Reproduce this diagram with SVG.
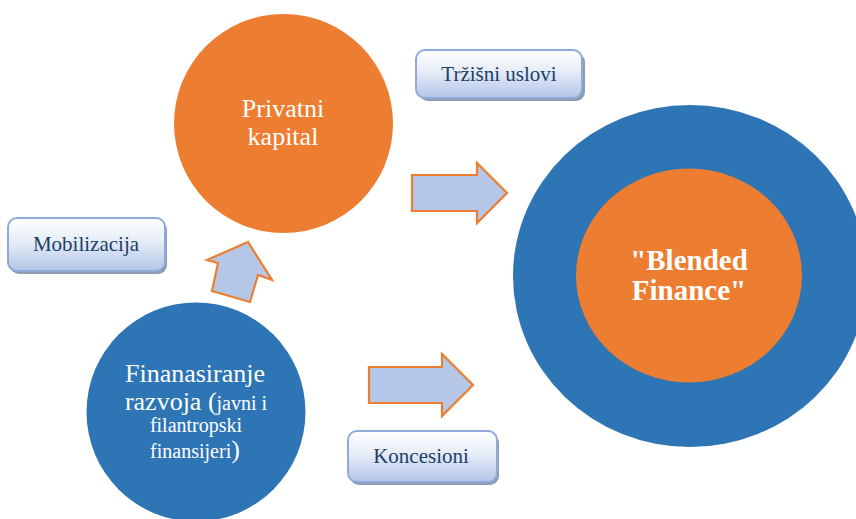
<svg xmlns="http://www.w3.org/2000/svg" width="856" height="519" viewBox="0 0 856 519">
<style>
.orange{fill:#ed7d31}
.blue{fill:#2e75b6}
.wt{fill:#ffffff;text-anchor:middle}
.box{fill:url(#bg);stroke:#8eaadb;stroke-width:2}
.shadow{fill:#8e9bb0}
.bt{fill:#203f66;font-size:21px;text-anchor:middle}
.arrow{fill:#b4c7e7;stroke:#ed7d31;stroke-width:2.2;stroke-linejoin:miter}
</style>
<defs>
<linearGradient id="bg" x1="0" y1="0" x2="0" y2="1">
<stop offset="0" stop-color="#ffffff"/>
<stop offset="0.45" stop-color="#e6ecf7"/>
<stop offset="1" stop-color="#b3c5e8"/>
</linearGradient>
</defs>
<rect width="856" height="519" fill="#ffffff"/>
<g font-family="'Liberation Serif', 'Times New Roman', 'DejaVu Serif', serif">
<g id="blended">
<ellipse class="blue" cx="690" cy="276" rx="177" ry="171"/>
<ellipse class="orange" cx="689" cy="275.5" rx="113" ry="107"/>
<text class="wt" font-size="29" font-weight="bold" x="689" y="270">"Blended</text>
<text class="wt" font-size="29" font-weight="bold" x="689" y="300">Finance"</text>
</g>
<g id="privatni">
<circle class="orange" cx="283.5" cy="123.5" r="109.5"/>
<text class="wt" font-size="26" x="283" y="117">Privatni</text>
<text class="wt" font-size="26" x="283" y="145">kapital</text>
</g>
<g id="finansiranje">
<circle class="blue" cx="196" cy="412" r="109.5"/>
<text class="wt" font-size="26" x="195" y="382">Finanasiranje</text>
<text class="wt" font-size="26" x="196" y="410">razvoja (<tspan font-size="20">javni i</tspan></text>
<text class="wt" font-size="20" x="196" y="432">filantropski</text>
<text class="wt" font-size="20" x="195" y="458">finansijeri<tspan font-size="26">)</tspan></text>
</g>
<g id="trzisni">
<rect class="shadow" x="419" y="53" width="166" height="48" rx="9"/>
<rect class="box" x="416" y="50" width="166" height="48" rx="9"/>
<text class="bt" x="499" y="81">Tržišni uslovi</text>
</g>
<g id="mobilizacija">
<rect class="shadow" x="10" y="221" width="157" height="53" rx="9"/>
<rect class="box" x="8" y="218" width="157" height="53" rx="9"/>
<text class="bt" x="86" y="251">Mobilizacija</text>
</g>
<g id="koncesioni">
<rect class="shadow" x="350" y="434" width="149" height="51" rx="9"/>
<rect class="box" x="348" y="431" width="149" height="51" rx="9"/>
<text class="bt" x="421" y="463">Koncesioni</text>
</g>
</g>
<g id="connectors">
<polygon class="arrow" points="412,175 477,175 477,163 507,193 477,223 477,211 412,211"/>
<polygon class="arrow" points="369,367 442,367 442,354 473,385 442,416 442,403 369,403"/>
<polygon class="arrow" points="248,242 207,260 218,263 212,291 250,302 258,275 272,280"/>
</g>
</svg>
